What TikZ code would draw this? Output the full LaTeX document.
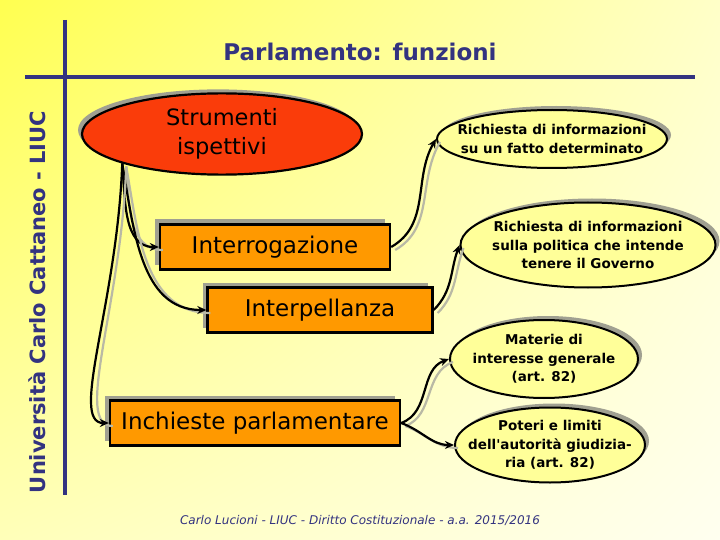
\documentclass[tikz,border=0pt]{standalone}
\usepackage{fontspec}
\setmainfont{DejaVu Sans}[Ligatures=TeXOff]
\usetikzlibrary{shapes.geometric, arrows.meta, shadows, shadings, positioning}
\definecolor{navy}{RGB}{51,51,128}
\definecolor{redfill}{RGB}{250,60,10}
\definecolor{orangefill}{RGB}{255,153,0}
\definecolor{palefill}{RGB}{255,255,153}
\definecolor{shadowgray}{RGB}{160,160,145}
\definecolor{linegray}{RGB}{185,185,165}
\definecolor{bgul}{RGB}{255,255,80}
\definecolor{bgll}{RGB}{255,255,185}
\definecolor{bgur}{RGB}{255,255,200}
\definecolor{bglr}{RGB}{255,255,240}
\begin{document}
\begin{tikzpicture}[x=1pt, y=1pt,
    bigoval/.style={ellipse, draw, line width=2.2pt, fill=redfill, align=center,
        font=\fontsize{22.5}{29}\selectfont,
        drop shadow={shadow xshift=-4pt, shadow yshift=4pt, fill=shadowgray, opacity=1}},
    box/.style={rectangle, draw, line width=2.4pt, fill=orangefill, minimum height=45pt,
        font=\fontsize{23}{26}\selectfont,
        drop shadow={shadow xshift=-5pt, shadow yshift=5pt, fill=shadowgray, opacity=1}},
    oval/.style={ellipse, draw, line width=2pt, fill=palefill, align=center,
        font=\bfseries\fontsize{13.5}{18.5}\selectfont, inner xsep=-25pt, inner ysep=-6pt,
        drop shadow={shadow xshift=4pt, shadow yshift=4pt, fill=shadowgray, opacity=1}},
    link/.style={draw, line width=2.2pt, -{Stealth[length=9pt, width=8pt]},
        preaction={draw=linegray, line width=2.2pt, -, transform canvas={shift={(4pt,-3pt)}}}},
    rule/.style={navy, line width=4pt}
]
    % background
    \shade[upper left=bgul, lower left=bgll, upper right=bgur, lower right=bglr]
        (0,0) rectangle (720,-540);
    \draw[rule] (65,-20) -- (65,-495);
    \draw[rule] (25,-77) -- (695,-77);

    \node[navy, font=\bfseries\fontsize{23}{26}\selectfont] (title) at (360,-52) {Parlamento: funzioni};
    \node[navy, rotate=90, font=\bfseries\fontsize{21}{24}\selectfont] (univ) at (37,-302) {Università Carlo Cattaneo - LIUC};

    % left column
    \node[bigoval, minimum width=280pt, minimum height=79pt] (strum) at (222,-134) {Strumenti\\ispettivi};
    \node[box, minimum width=230pt] (interr) at (275,-247) {Interrogazione};
    \node[box, minimum width=225pt] (interp) at (320,-310) {Interpellanza};
    \node[box, minimum width=290pt] (inch) at (255,-423) {Inchieste parlamentare};

    % right column
    \node[oval, minimum width=230pt, minimum height=58pt] (ric1) at (552,-139) {Richiesta di informazioni\\su un fatto determinato};
    \node[oval, minimum width=255pt, minimum height=85pt] (ric2) at (588,-245) {Richiesta di informazioni\\sulla politica che intende\\tenere il Governo};
    \node[oval, minimum width=188pt, minimum height=78pt] (mat) at (544,-359) {Materie di\\interesse generale\\(art. 82)};
    \node[oval, minimum width=190pt, minimum height=75pt] (pot) at (550,-445) {Poteri e limiti\\dell'autorità giudizia-\\ria (art. 82)};

    % connectors
    \draw[link] (strum.south west) to[out=-85, in=180] (interr.west);
    \draw[link] (strum.south west) to[out=-80, in=180] (interp.west);
    \draw[link] (strum.south west) .. controls +(-5,-140) and +(-40,0) .. (inch.west);
    \draw[link] (interr.east) to[out=30, in=-120] (ric1.west);
    \draw[link] (interp.east) to[out=45, in=-110] (ric2.west);
    \draw[link] (inch.east) to[out=20, in=200] (mat.west);
    \draw[link] (inch.east) to[out=-20, in=180] (pot.west);

    \node[navy, font=\itshape\fontsize{12}{14}\selectfont] (foot) at (360,-520) {Carlo Lucioni - LIUC - Diritto Costituzionale - a.a. 2015/2016};
\end{tikzpicture}
\end{document}
